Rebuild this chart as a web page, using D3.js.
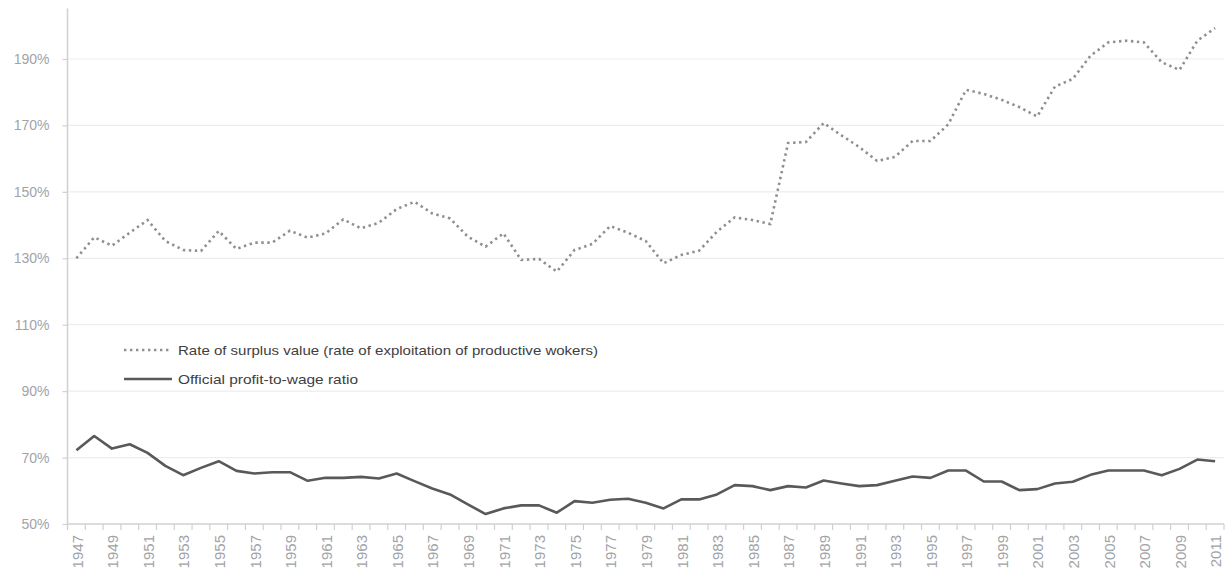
<!DOCTYPE html>
<html>
<head>
<meta charset="utf-8">
<script src="https://cdn.jsdelivr.net/npm/d3@7"></script>
<style>
  html, body { margin: 0; padding: 0; background: #fff; }
  svg { display: block; }
</style>
</head>
<body>
<svg id="chart" width="1227" height="579"></svg>
<script>
// ---------- data ----------
const years = d3.range(1947, 2012);
const surplusRate = [
  130.0, 136.3, 133.8, 137.7, 141.5, 135.2, 132.5, 132.2, 138.2, 132.8,
  134.7, 134.7, 138.3, 136.2, 137.5, 141.7, 139.0, 140.7, 144.8, 147.0,
  143.5, 142.0, 136.5, 133.5, 137.5, 129.5, 129.8, 126.0, 132.5, 134.3,
  139.7, 137.7, 135.2, 128.5, 131.0, 132.3, 138.0, 142.3, 141.5, 140.3,
  164.7, 165.0, 170.7, 167.0, 163.5, 159.3, 160.5, 165.3, 165.3, 170.3,
  180.7, 179.5, 177.7, 175.5, 172.7, 181.7, 184.0, 191.0, 195.0, 195.5,
  195.0, 189.0, 186.7, 195.5, 199.3
];
const profitWage = [
  72.2, 76.5, 72.7, 74.0, 71.4, 67.5, 64.7, 66.9, 68.9, 66.0,
  65.2, 65.6, 65.6, 63.0, 63.9, 63.9, 64.2, 63.7, 65.2, 62.9,
  60.7, 58.9, 55.9, 53.0, 54.7, 55.6, 55.6, 53.4, 56.9, 56.4,
  57.3, 57.6, 56.4, 54.7, 57.4, 57.4, 58.9, 61.7, 61.4, 60.2,
  61.4, 61.0, 63.1, 62.2, 61.4, 61.7, 63.0, 64.3, 63.9, 66.1,
  66.1, 62.8, 62.8, 60.2, 60.5, 62.2, 62.7, 64.8, 66.1, 66.1,
  66.1, 64.7, 66.6, 69.4, 68.9
];
const yTicks = [50, 70, 90, 110, 130, 150, 170, 190];
const seriesNames = [
  "Rate of surplus value (rate of exploitation of productive wokers)",
  "Official profit-to-wage ratio"
];

// ---------- layout ----------
const plotLeft = 67.5, plotRight = 1224, plotTop = 8.5, plotBottom = 524;
const svg = d3.select("#chart");

const x = d3.scaleBand().domain(years).range([plotLeft, plotRight]).padding(0);
const y = d3.scaleLinear().domain([50, 205.2]).range([plotBottom, plotTop]);
const cx = d => x(d) + x.bandwidth() / 2;

const axisColor = "#d0d0d0";
const labelColor = "#a0a4a8";
const font = "'Liberation Sans', Arial, sans-serif";

// gridlines
svg.append("g")
  .selectAll("line")
  .data(yTicks.filter(t => t !== 50))
  .join("line")
  .attr("x1", plotLeft).attr("x2", plotRight)
  .attr("y1", d => y(d)).attr("y2", d => y(d))
  .attr("stroke", "#ededed").attr("stroke-width", 1.2);

// y axis
const yAxis = svg.append("g")
  .attr("transform", `translate(${plotLeft},0)`)
  .call(d3.axisLeft(y).tickValues(yTicks).tickFormat(d => d + "%").tickSize(5).tickPadding(13).tickSizeOuter(0));
yAxis.select(".domain").attr("stroke", axisColor).attr("stroke-width", 1.5)
  .attr("d", `M0,${plotTop}V${plotBottom}`);
yAxis.selectAll(".tick line").attr("stroke", axisColor).attr("stroke-width", 1.2);
yAxis.selectAll(".tick text").attr("fill", labelColor).style("font-family", font).style("font-size", "14px");

// x axis
const xAxis = svg.append("g")
  .attr("transform", `translate(0,${plotBottom})`)
  .call(d3.axisBottom(x).tickValues(years.filter(yr => (yr - 1947) % 2 === 0)).tickSize(0).tickPadding(0));
xAxis.select(".domain").attr("stroke", axisColor).attr("stroke-width", 1.5)
  .attr("d", `M${plotLeft},0H${plotRight}`);
xAxis.selectAll(".tick text")
  .attr("fill", labelColor)
  .style("font-family", font).style("font-size", "15px")
  .attr("text-anchor", "end")
  .attr("transform", "rotate(-90)")
  .attr("x", -11).attr("y", 1).attr("dy", "0.35em");
// category boundary ticks
svg.append("g")
  .selectAll("line")
  .data(years.map(yr => x(yr)).concat([plotRight]))
  .join("line")
  .attr("x1", d => d).attr("x2", d => d)
  .attr("y1", plotBottom).attr("y2", plotBottom + 6)
  .attr("stroke", axisColor).attr("stroke-width", 1.2);

// lines
const lineGen = vals => d3.line().x((d, i) => cx(years[i])).y(d => y(d))(vals);

svg.append("path")
  .attr("d", lineGen(surplusRate))
  .attr("fill", "none")
  .attr("stroke", "#8f8f8f")
  .attr("stroke-width", 2.6)
  .attr("stroke-dasharray", "2.4 3.6");

svg.append("path")
  .attr("d", lineGen(profitWage))
  .attr("fill", "none")
  .attr("stroke", "#595959")
  .attr("stroke-width", 2.6)
  .attr("stroke-linejoin", "round");

// legend
const legend = svg.append("g");
const legendRows = [
  { name: seriesNames[0], y: 350, dash: "2.4 3.6", color: "#8f8f8f", len: 420 },
  { name: seriesNames[1], y: 379, dash: null, color: "#595959", len: 180 }
];
legendRows.forEach(r => {
  legend.append("line")
    .attr("x1", 124).attr("x2", 172).attr("y1", r.y).attr("y2", r.y)
    .attr("stroke", r.color).attr("stroke-width", 2.4)
    .attr("stroke-dasharray", r.dash);
  legend.append("text")
    .attr("x", 178).attr("y", r.y).attr("dy", "0.35em")
    .attr("fill", "#404040")
    .style("font-family", font).style("font-size", "13px")
    .attr("textLength", r.len).attr("lengthAdjust", "spacingAndGlyphs")
    .text(r.name);
});
</script>
</body>
</html>
